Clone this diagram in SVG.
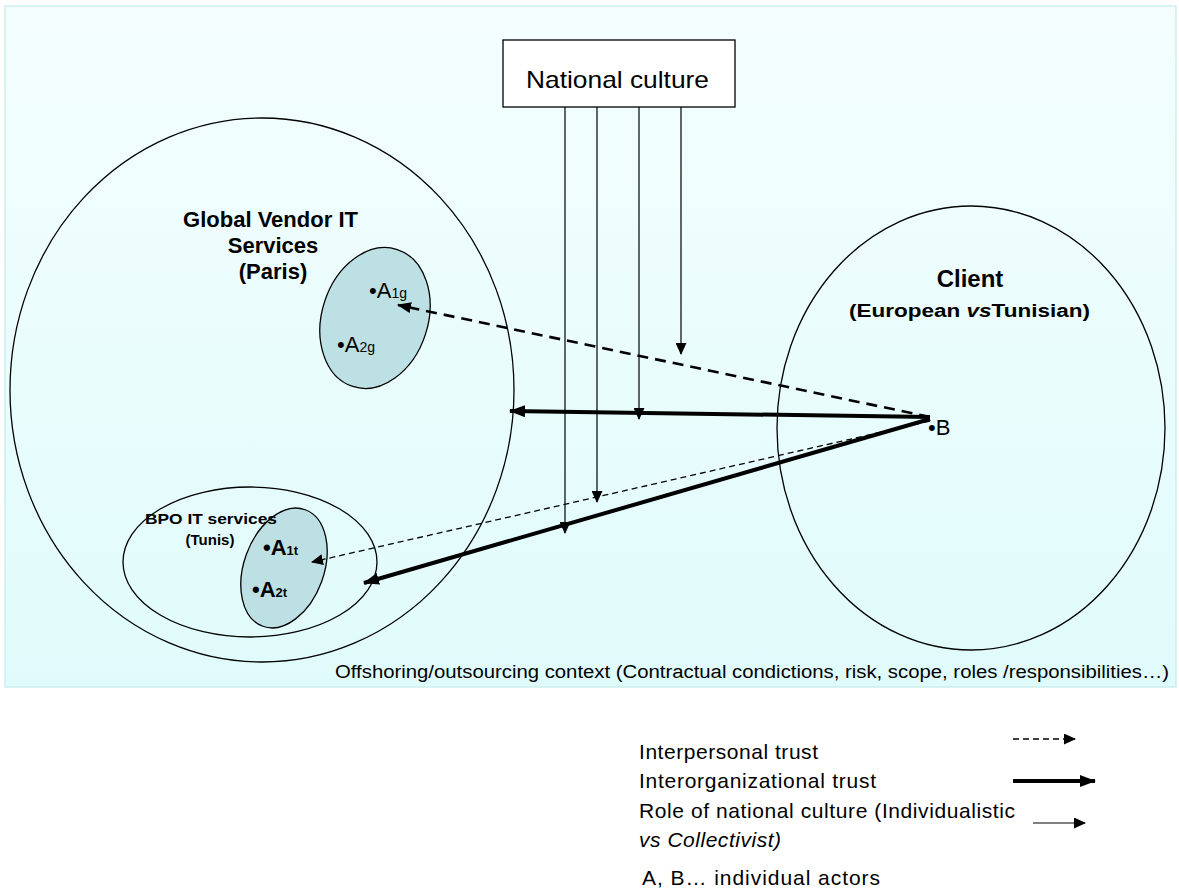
<svg xmlns="http://www.w3.org/2000/svg" width="1179" height="894" viewBox="0 0 1179 894">
<style>
.t{font-family:"Liberation Sans",Arial,sans-serif;fill:#000}
.b{font-weight:bold}
.ol{fill:none;stroke:#000;stroke-width:1.3}
.grn{fill:#bde0e4;stroke:#000;stroke-width:1.3}
.cul{stroke:#000;stroke-width:1.2;fill:none}
.thick{stroke:#000;stroke-width:4;fill:none}
.dsh{stroke:#000;stroke-width:2.6;fill:none;stroke-dasharray:11 7}
.tdsh{stroke:#000;stroke-width:1.3;fill:none;stroke-dasharray:6 4}
</style>
<defs>
<linearGradient id="bg" x1="0" y1="0" x2="0" y2="1">
<stop offset="0" stop-color="#f4fefe"/>
<stop offset="1" stop-color="#e0fbfb"/>
</linearGradient>
<marker id="ah" markerUnits="userSpaceOnUse" markerWidth="16" markerHeight="12" refX="15" refY="6" orient="auto">
<path d="M0,0 L16,6 L0,12 z" fill="#000"/>
</marker>
<marker id="am" markerUnits="userSpaceOnUse" markerWidth="14" markerHeight="11" refX="13" refY="5.5" orient="auto">
<path d="M0,0 L14,5.5 L0,11 z" fill="#000"/>
</marker>
<marker id="as" markerUnits="userSpaceOnUse" markerWidth="12" markerHeight="11" refX="11" refY="5.5" orient="auto">
<path d="M0,0 L12,5.5 L0,11 z" fill="#000"/>
</marker>
</defs>

<rect x="5" y="6" width="1171" height="681" fill="url(#bg)" stroke="#cdeeee" stroke-width="1.5"/>

<g id="vendor">
<ellipse cx="262" cy="390" rx="252" ry="272" class="ol"/>
<text class="t b" x="183" y="227" font-size="22" textLength="175" lengthAdjust="spacingAndGlyphs">Global Vendor IT</text>
<text class="t b" x="273" y="253" font-size="22" text-anchor="middle">Services</text>
<text class="t b" x="273" y="279" font-size="22" text-anchor="middle">(Paris)</text>
</g>

<g id="vendor-actors">
<ellipse cx="375" cy="318" rx="53" ry="72" transform="rotate(18 375 318)" class="grn"/>
<text class="t" x="369" y="298" font-size="22">•A<tspan font-size="14">1g</tspan></text>
<text class="t" x="337" y="352" font-size="22">•A<tspan font-size="14">2g</tspan></text>
</g>

<g id="bpo">
<ellipse cx="250" cy="562" rx="127" ry="75" class="ol"/>
</g>

<g id="bpo-actors">
<ellipse cx="284" cy="568" rx="40" ry="62" transform="rotate(20 284 568)" class="grn"/>
<text class="t b" x="263" y="555" font-size="22">•A<tspan font-size="13">1t</tspan></text>
<text class="t b" x="252" y="597" font-size="22">•A<tspan font-size="13">2t</tspan></text>
</g>

<g id="bpo-label">
<text class="t b" x="145" y="524" font-size="15" textLength="132" lengthAdjust="spacingAndGlyphs">BPO  IT services</text>
<text class="t b" x="210" y="545" font-size="15" text-anchor="middle">(Tunis)</text>
</g>

<g id="client">
<ellipse cx="971" cy="428" rx="194" ry="222" class="ol"/>
<text class="t b" x="970" y="287" font-size="24" text-anchor="middle">Client</text>
<text class="t b" x="849" y="317" font-size="18" textLength="241" lengthAdjust="spacingAndGlyphs">(European <tspan font-style="italic">vs</tspan>Tunisian)</text>
<text class="t" x="928" y="435" font-size="22">•B</text>
</g>

<g id="culture">
<rect x="503" y="40" width="232" height="67" fill="#fff" stroke="#000" stroke-width="1.3"/>
<text class="t" x="526" y="88" font-size="24" textLength="183" lengthAdjust="spacingAndGlyphs">National culture</text>
</g>

<g id="connectors">
<line x1="565" y1="107" x2="565" y2="533" class="cul" marker-end="url(#as)"/>
<line x1="597" y1="107" x2="597" y2="502" class="cul" marker-end="url(#as)"/>
<line x1="639" y1="107" x2="639" y2="419" class="cul" marker-end="url(#as)"/>
<line x1="681" y1="107" x2="681" y2="354" class="cul" marker-end="url(#as)"/>
<line x1="930" y1="417" x2="398" y2="305" class="dsh" marker-end="url(#am)"/>
<line x1="930" y1="417" x2="510" y2="411" class="thick" marker-end="url(#ah)"/>
<line x1="930" y1="421" x2="312" y2="562" class="tdsh" marker-end="url(#as)"/>
<line x1="930" y1="419" x2="364" y2="583" class="thick" marker-end="url(#ah)"/>
</g>

<g id="context">
<text class="t" x="335" y="678" font-size="18" textLength="834" lengthAdjust="spacingAndGlyphs">Offshoring/outsourcing context (Contractual condictions, risk, scope, roles /responsibilities…)</text>
</g>

<g id="legend">
<text class="t" x="639" y="759" font-size="21" textLength="179" lengthAdjust="spacing">Interpersonal trust</text>
<text class="t" x="639" y="788" font-size="21" textLength="237" lengthAdjust="spacing">Interorganizational  trust</text>
<text class="t" x="639" y="818" font-size="21" textLength="376" lengthAdjust="spacing">Role of national culture (Individualistic</text>
<text class="t" x="639" y="847" font-size="21" font-style="italic" textLength="142" lengthAdjust="spacing">vs Collectivist)</text>
<text class="t" x="642" y="885" font-size="21" textLength="238" lengthAdjust="spacing">A, B… individual actors</text>
<line x1="1013" y1="739" x2="1075" y2="739" class="tdsh" stroke-dasharray="5 4" marker-end="url(#as)"/>
<line x1="1013" y1="781" x2="1095" y2="781" class="thick" marker-end="url(#ah)"/>
<line x1="1033" y1="823" x2="1085" y2="823" class="cul" marker-end="url(#as)"/>
</g>
</svg>
